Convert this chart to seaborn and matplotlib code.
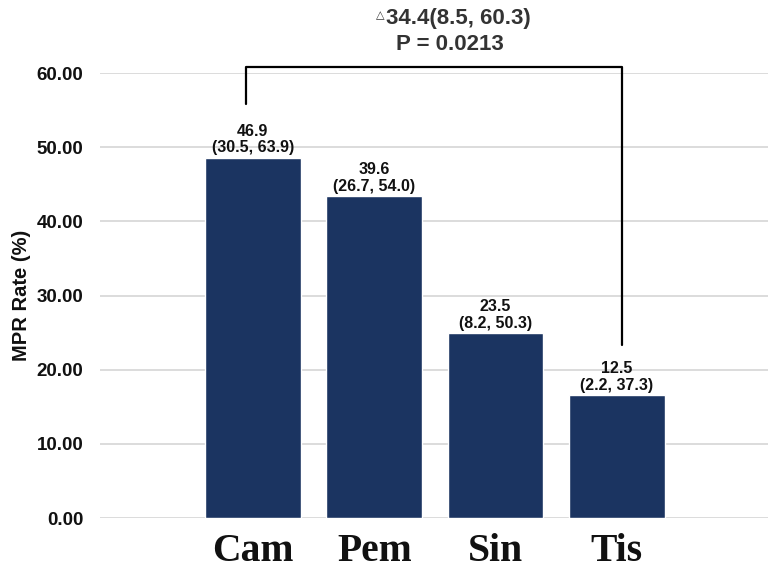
"""
    plot.py
    Bar chart of MPR rate by group with bracketed comparison.
"""
import pandas as pd
import seaborn as sns
import matplotlib
matplotlib.use('Agg')
import matplotlib.pyplot as plt

# Data.
groups = ['Cam', 'Pem', 'Sin', 'Tis']
mpr_rate = [48.6, 43.4, 25.0, 16.6]
estimates = ['46.9', '39.6', '23.5', '12.5']
intervals = ['(30.5, 63.9)', '(26.7, 54.0)', '(8.2, 50.3)', '(2.2, 37.3)']
y_ticks = [0, 10, 20, 30, 40, 50, 60]
diff_text = '34.4(8.5, 60.3)'
p_text = 'P = 0.0213'

BAR_COLOR = '#1b3461'
SANS = ['Liberation Sans', 'DejaVu Sans']
SERIF = ['Liberation Serif', 'DejaVu Serif']


def main():
    sns.set_style('white')
    plt.rcParams['font.family'] = SANS
    plt.rcParams['text.color'] = '#111111'
    plt.rcParams['xtick.color'] = '#111111'
    plt.rcParams['ytick.color'] = '#111111'
    plt.rcParams['axes.labelcolor'] = '#111111'

    df = pd.DataFrame({'group': groups, 'rate': mpr_rate})

    fig = plt.figure(figsize=(7.71, 5.75), dpi=100)
    ax = fig.add_axes([0.1297, 0.0991, 0.8663, 0.7739])

    sns.barplot(data=df, x='group', y='rate', color=BAR_COLOR, saturation=1,
                width=0.79, ax=ax, zorder=3)

    # Axis limits, ticks and grid.
    ax.set_ylim(0, 60)
    ax.set_xlim(-1.26, 4.245)
    ax.set_yticks(y_ticks)
    ax.set_yticklabels([f'{t:.2f}' for t in y_ticks], fontsize=13.5,
                       fontweight='bold')
    ax.set_xticks(range(len(groups)))
    ax.set_xticklabels(groups, fontsize=28.5, fontweight='bold', family=SERIF)
    ax.tick_params(axis='y', length=0, pad=12)
    ax.tick_params(axis='x', length=0, pad=11)
    ax.yaxis.grid(True, color='#d9d9d9', linewidth=1.3, zorder=0)
    ax.set_axisbelow(True)
    for side in ['top', 'right', 'left', 'bottom']:
        ax.spines[side].set_visible(False)
    ax.set_xlabel('')
    ax.set_ylabel('MPR Rate (%)', fontsize=14.5, fontweight='bold', labelpad=4)

    # Value labels above each bar.
    for i, bar in enumerate(ax.patches):
        x = bar.get_x() + bar.get_width() / 2
        top = bar.get_height()
        ax.annotate(f'{estimates[i]}\n{intervals[i]}', xy=(x, top),
                    xytext=(0, 1.5), textcoords='offset points',
                    ha='center', va='bottom', fontsize=11.5,
                    fontweight='bold', linespacing=1.15)

    # Comparison bracket between first and last bars.
    ax.plot([-0.06, -0.06, 3.04, 3.04], [55.8, 60.85, 60.85, 23.3],
            color='black', linewidth=1.6, clip_on=False, zorder=4)

    # Difference and p-value text above the bracket.
    main_txt = ax.text(1.69, 67.4, diff_text, ha='center', va='center',
                       fontsize=16, fontweight='bold', color='#333333',
                       clip_on=False)
    ax.text(1.62, 63.8, p_text, ha='center', va='center', fontsize=16,
            fontweight='bold', color='#333333', clip_on=False)

    # Small triangle just left of the difference text.
    fig.canvas.draw()
    bb = main_txt.get_window_extent()
    x_left = ax.transData.inverted().transform((bb.x0, bb.y0))[0]
    ax.annotate('\u25b3', xy=(x_left, 67.4), xytext=(-1, 2),
                textcoords='offset points', ha='right', va='center',
                fontsize=8, color='#333333', family=['DejaVu Sans'],
                annotation_clip=False)

    fig.savefig('out.png', dpi=100)


if __name__ == '__main__':
    main()
